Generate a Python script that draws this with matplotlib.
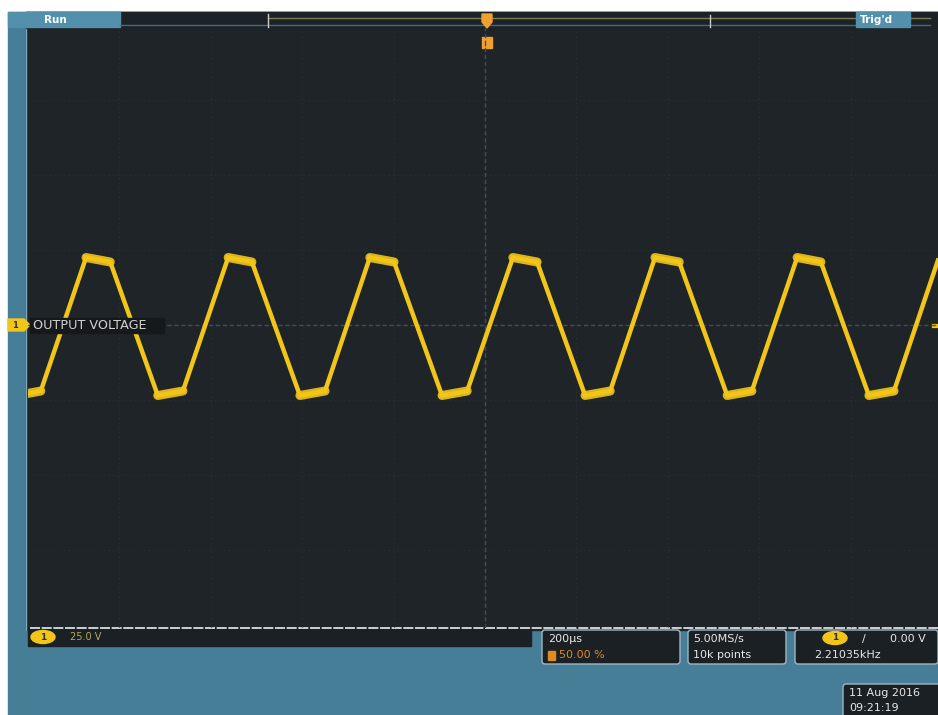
import matplotlib
matplotlib.use('Agg')
import matplotlib.pyplot as plt
from matplotlib.patches import Rectangle, FancyBboxPatch, Ellipse, Polygon

# corner points of the output voltage trace (time in us, voltage in V)
corner_t = [-1000, -972, -873, -820, -716, -661, -562, -510, -405, -350,
            -252, -199, -94, -39, 61, 114, 219, 274, 372, 425,
            530, 584, 683, 735, 840, 895, 991]
corner_v = [-22.8, -22.0, 22.5, 21.0, -23.5, -22.0, 22.5, 21.0, -23.5, -22.0,
            22.5, 21.0, -23.5, -22.0, 22.5, 21.0, -23.5, -22.0, 22.5, 21.0,
            -23.5, -22.0, 22.5, 21.0, -23.5, -22.0, 21.5]

# scope settings shown in the readouts
volts_per_div = 25.0
time_per_div = 200.0
ch1_label = 'OUTPUT VOLTAGE'
ch1_scale = '25.0 V'
horiz_scale = '200µs'
trig_pos = '50.00 %'
sample_rate = '5.00MS/s'
record_len = '10k points'
trig_level = '0.00 V'
freq_readout = '2.21035kHz'
date_str = '11 Aug 2016'
time_str = '09:21:19'

W, H = 938, 715
bezel = '#467d97'
bezel_lt = '#5290ab'
screen = '#1f2429'
trace = '#f2c619'

fig = plt.figure(figsize=(W / 100, H / 100), dpi=100)
fig.patch.set_facecolor('white')

# frame drawn in pixel coordinates
bg = fig.add_axes([0, 0, 1, 1])
bg.set_xlim(0, W)
bg.set_ylim(H, 0)
bg.axis('off')
bg.add_patch(Rectangle((8, 12), W - 8, H - 12, color=bezel, zorder=0))
bg.add_patch(Rectangle((26, 12), W - 26, 618, color=screen, zorder=1))
bg.plot([26, 26], [28, 630], color='#7fa9bd', lw=1, zorder=2)

# top status bar
bg.add_patch(Rectangle((26, 12), W - 26, 16, color='#1c2226', zorder=2))
bg.add_patch(Rectangle((8, 12), 112, 15, color=bezel_lt, zorder=3))
bg.text(44, 20, 'Run', color='white', fontsize=7.5, fontweight='bold',
        va='center', ha='left', zorder=4)
bg.plot([268, 930], [18, 18], color='#7d7d55', lw=1, zorder=3)
bg.plot([120, 930], [25, 25], color='#536773', lw=1, zorder=3)
bg.plot([268, 268], [14, 27], color='#cccccc', lw=1, zorder=3)
bg.plot([710, 710], [15, 27], color='#cccccc', lw=1, zorder=3)
bg.add_patch(Rectangle((856, 12), 54, 15, color=bezel_lt, zorder=3))
bg.text(860, 20, "Trig'd", color='white', fontsize=7.5, fontweight='bold',
        va='center', ha='left', zorder=4)
# trigger position markers
bg.add_patch(Polygon([[482, 14], [492, 14], [492, 22], [487, 28], [482, 22]],
                     closed=True, color='#f0a030', zorder=4))
bg.add_patch(Rectangle((482, 37), 10, 11, color='#f0a030', zorder=4))

# channel 1 marker at the left
bg.add_patch(Polygon([[8, 319], [24, 319], [30, 325], [24, 331], [8, 331]],
                     closed=True, color=trace, zorder=5))
bg.text(15, 325, '1', color='#333333', fontsize=6, fontweight='bold',
        ha='center', va='center', zorder=6)
bg.plot([934, 938], [326, 326], color=trace, lw=3, zorder=5)

# bottom readouts
bg.plot([30, W], [628, 628], color='#e8eef0', lw=1.2, ls=(0, (6, 1)), zorder=5)
bg.add_patch(Rectangle((28, 629), 503, 17, color='#1b2024', zorder=4))
bg.add_patch(Ellipse((43, 637), 24, 13, color=trace, zorder=5))
bg.text(43, 637, '1', color='#333333', fontsize=6.5, fontweight='bold',
        ha='center', va='center', zorder=6)
bg.text(70, 637, ch1_scale, color='#b8a860', fontsize=7, va='center', zorder=6)

for x0, w in [(542, 138), (688, 98), (795, 143)]:
    bg.add_patch(FancyBboxPatch((x0, 630), w, 34, boxstyle='round,pad=0,rounding_size=3',
                                fc='#1b2024', ec='#9fb8c4', lw=1, zorder=4))
bg.text(548, 639, horiz_scale, color='#e6e6e6', fontsize=8, va='center', zorder=6)
bg.add_patch(Rectangle((548, 651), 7, 9, color='#e08a20', zorder=6))
bg.text(559, 655.5, trig_pos, color='#e08a20', fontsize=8, va='center', zorder=6)
bg.text(693, 639, sample_rate, color='#e6e6e6', fontsize=8, va='center', zorder=6)
bg.text(693, 655.5, record_len, color='#e6e6e6', fontsize=8, va='center', zorder=6)
bg.add_patch(Ellipse((835, 638), 24, 13, color=trace, zorder=5))
bg.text(835, 638, '1', color='#333333', fontsize=6.5, fontweight='bold',
        ha='center', va='center', zorder=6)
bg.text(862, 639, '/', color='#e6e6e6', fontsize=8, va='center', zorder=6)
bg.text(890, 639, trig_level, color='#e6e6e6', fontsize=8, va='center', zorder=6)
bg.text(814, 655.5, freq_readout, color='#e6e6e6', fontsize=8, va='center', zorder=6)

bg.add_patch(FancyBboxPatch((843, 684), 100, 34, boxstyle='round,pad=0,rounding_size=3',
                            fc='#1b2024', ec='#9fb8c4', lw=1, zorder=4))
bg.text(849, 693, date_str, color='#e6e6e6', fontsize=8, va='center', zorder=6)
bg.text(849, 708, time_str, color='#e6e6e6', fontsize=8, va='center', zorder=6)

# scope graticule axes
ax = fig.add_axes([28 / W, (H - 628) / H, 914 / W, 600 / H])
ax.set_facecolor('none')
ax.set_xlim(-5 * time_per_div, 5 * time_per_div)
ax.set_ylim(-4.04 * volts_per_div, 3.96 * volts_per_div)
for s in ax.spines.values():
    s.set_visible(False)
ax.set_xticks([])
ax.set_yticks([])

for k in range(-4, 5):
    ax.axvline(k * time_per_div, color='#2a3035', lw=0.8, ls=(0, (1, 3)), zorder=1)
for k in range(-3, 4):
    ax.axhline(k * volts_per_div, color='#2a3035', lw=0.8, ls=(0, (1, 3)), zorder=1)
ax.axvline(0, color='#464d55', lw=1, ls=(0, (3, 2)), zorder=1)
ax.axhline(0, color='#464d55', lw=1, ls=(0, (3, 2)), zorder=1)

# trace, with thicker noisy plateaus
ax.plot(corner_t, corner_v, color=trace, lw=3.2, solid_joinstyle='miter', zorder=3)
for i in range(len(corner_t) - 1):
    if (corner_v[i] > 0) == (corner_v[i + 1] > 0):
        ax.plot(corner_t[i:i + 2], corner_v[i:i + 2], color=trace, lw=6.5,
                solid_capstyle='round', alpha=0.9, zorder=3)

# channel label sits above the trace
ax.add_patch(Rectangle((30, 318), 134, 15, color='#15191c', zorder=6,
                       transform=bg.transData, clip_on=False))
ax.text(33, 325.5, ch1_label, color='#d0d0d0', fontsize=9.2, va='center',
        ha='left', zorder=7, transform=bg.transData, clip_on=False)

fig.savefig('out.png', dpi=100, facecolor=fig.get_facecolor())
